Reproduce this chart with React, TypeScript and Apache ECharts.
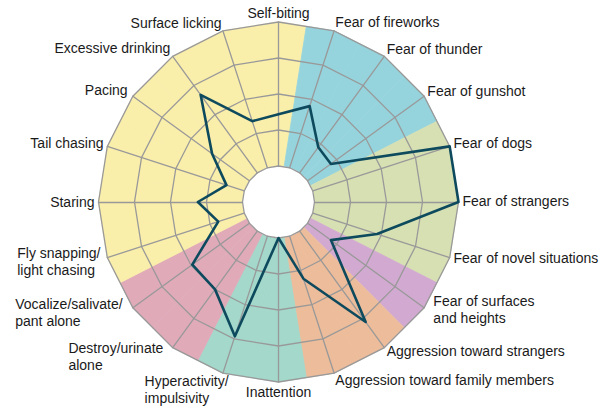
import React, { useEffect, useRef } from "react";
import * as echarts from "echarts";

// Categories in clockwise order starting at the top
const categories = [
  "Self-biting",
  "Fear of fireworks",
  "Fear of thunder",
  "Fear of gunshot",
  "Fear of dogs",
  "Fear of strangers",
  "Fear of novel situations",
  "Fear of surfaces\nand heights",
  "Aggression toward strangers",
  "Aggression toward family members",
  "Inattention",
  "Hyperactivity/\nimpulsivity",
  "Destroy/urinate\nalone",
  "Vocalize/salivate/\npant alone",
  "Fly snapping/\nlight chasing",
  "Staring",
  "Tail chasing",
  "Pacing",
  "Excessive drinking",
  "Surface licking",
];

const values = [36, 45, 22, 20, 100, 100, 47, 20, 78, 31, 0, 73, 50, 49, 19, 31, 13, 32, 67, 34];

// group of each category (background colour index)
const groupOfCategory = [0, 1, 1, 1, 2, 2, 2, 3, 4, 4, 5, 5, 6, 6, 0, 0, 0, 0, 0, 0];
const groupColors = ["#FAEEAB", "#96D4DD", "#D7E0B3", "#D2AAD1", "#EDBC9A", "#A3D8CA", "#E0AAB9"];

// small label nudges (px) for the wrapped labels
const labelNudge: [number, number][] = [
  [0, 0], [0, 0], [0, 0], [0, 0], [0, 0], [0, -1], [0, -3], [6, -4], [0, -4], [0, -2],
  [0, 0], [7, 7], [-7, 1], [-7, -1], [-3, 1], [0, 0], [0, 0], [-2, -1], [0, -1], [0, 1],
];

const MAX = 100;
const CX = 278.5;
const CY = 202;
const R_IN = 36;
const R_OUT = 180;
const W = 611;
const H = 409;
const FONT_FAMILY = "'Liberation Sans', Arial, Helvetica, sans-serif";
const FONT_SIZE = 14;

export default function App() {
  const ref = useRef<HTMLDivElement>(null);

  useEffect(() => {
    if (!ref.current) return;
    const chart = echarts.init(ref.current, null, { renderer: "svg" });
    const n = categories.length;
    // ECharts radar places indicators counter-clockwise; reverse to get clockwise order
    const order = [0];
    for (let k = n - 1; k >= 1; k--) order.push(k);

    // measure label widths (for wrapped labels whose lines are left-aligned)
    const ctx = document.createElement("canvas").getContext("2d");
    const widths = categories.map((t) => {
      if (!ctx) return 0;
      ctx.font = `${FONT_SIZE}px ${FONT_FAMILY}`;
      return Math.max(...t.split("\n").map((l) => ctx.measureText(l).width));
    });

    const step = (Math.PI * 2) / n;
    const pt = (api: any, theta: number, r: number) =>
      api.coord([CX + r * Math.sin(theta), CY - r * Math.cos(theta)]);

    const option: any = {
      animation: false,
      grid: { left: 0, right: 0, top: 0, bottom: 0 },
      xAxis: { type: "value", min: 0, max: W, show: false },
      yAxis: { type: "value", min: 0, max: H, inverse: true, show: false },
      radar: {
        center: [CX, CY],
        radius: [R_IN, R_OUT],
        startAngle: 90,
        splitNumber: 4,
        shape: "polygon",
        z: 2,
        indicator: order.map((k) => ({ name: categories[k], min: 0, max: MAX })),
        axisName: { show: false },
        splitLine: { lineStyle: { color: "#999999", width: 1.3 } },
        axisLine: { lineStyle: { color: "#999999", width: 1.3 } },
        splitArea: { show: false },
        axisTick: { show: false },
        axisLabel: { show: false },
      },
      series: [
        {
          type: "custom",
          coordinateSystem: "cartesian2d",
          z: 0,
          silent: true,
          data: categories.map((_, i) => [i]),
          renderItem: (params: any, api: any) => {
            const i = api.value(0);
            const th = i * step;
            const rm = R_OUT * Math.cos(step / 2);
            const color = groupColors[groupOfCategory[i]];
            return {
              type: "polygon",
              shape: {
                points: [
                  pt(api, 0, 0),
                  pt(api, th - step / 2, rm),
                  pt(api, th, R_OUT),
                  pt(api, th + step / 2, rm),
                ],
              },
              style: { fill: color, stroke: color, lineWidth: 0.8 },
            };
          },
        },
        {
          type: "custom",
          coordinateSystem: "cartesian2d",
          z: 1,
          silent: true,
          data: [[0]],
          renderItem: (params: any, api: any) => {
            const c = api.coord([CX, CY]);
            return {
              type: "circle",
              shape: { cx: c[0], cy: c[1], r: R_IN },
              style: { fill: "#ffffff" },
            };
          },
        },
        {
          type: "radar",
          z: 3,
          symbol: "none",
          data: [
            {
              value: order.map((k) => values[k]),
              lineStyle: { color: "#0E4A5E", width: 2.6 },
            },
          ],
        },
        {
          type: "custom",
          coordinateSystem: "cartesian2d",
          z: 5,
          silent: true,
          data: categories.map((_, i) => [i]),
          renderItem: (params: any, api: any) => {
            const i = api.value(0);
            const th = i * step;
            const s = Math.sin(th);
            const c = Math.cos(th);
            const ax = CX + R_OUT * s + 4 * s + labelNudge[i][0];
            const ay = CY - R_OUT * c - 9.5 * c + labelNudge[i][1];
            const p = api.coord([ax, ay]);
            const text = categories[i];
            let align = Math.abs(s) < 0.05 ? "center" : s > 0 ? "left" : "right";
            let x = p[0];
            if (align === "right" && text.indexOf("\n") >= 0) {
              x = p[0] - widths[i];
              align = "left";
            }
            return {
              type: "text",
              x,
              y: p[1],
              style: {
                text,
                fill: "#1a1a1a",
                fontSize: FONT_SIZE,
                fontFamily: FONT_FAMILY,
                align,
                verticalAlign: "middle",
                lineHeight: 17,
              },
            };
          },
        },
      ],
    };
    chart.setOption(option);
    return () => chart.dispose();
  }, []);

  return (
    <div
      ref={ref}
      style={{ position: "absolute", left: 0, top: 0, width: W, height: H, background: "#fff" }}
    />
  );
}
